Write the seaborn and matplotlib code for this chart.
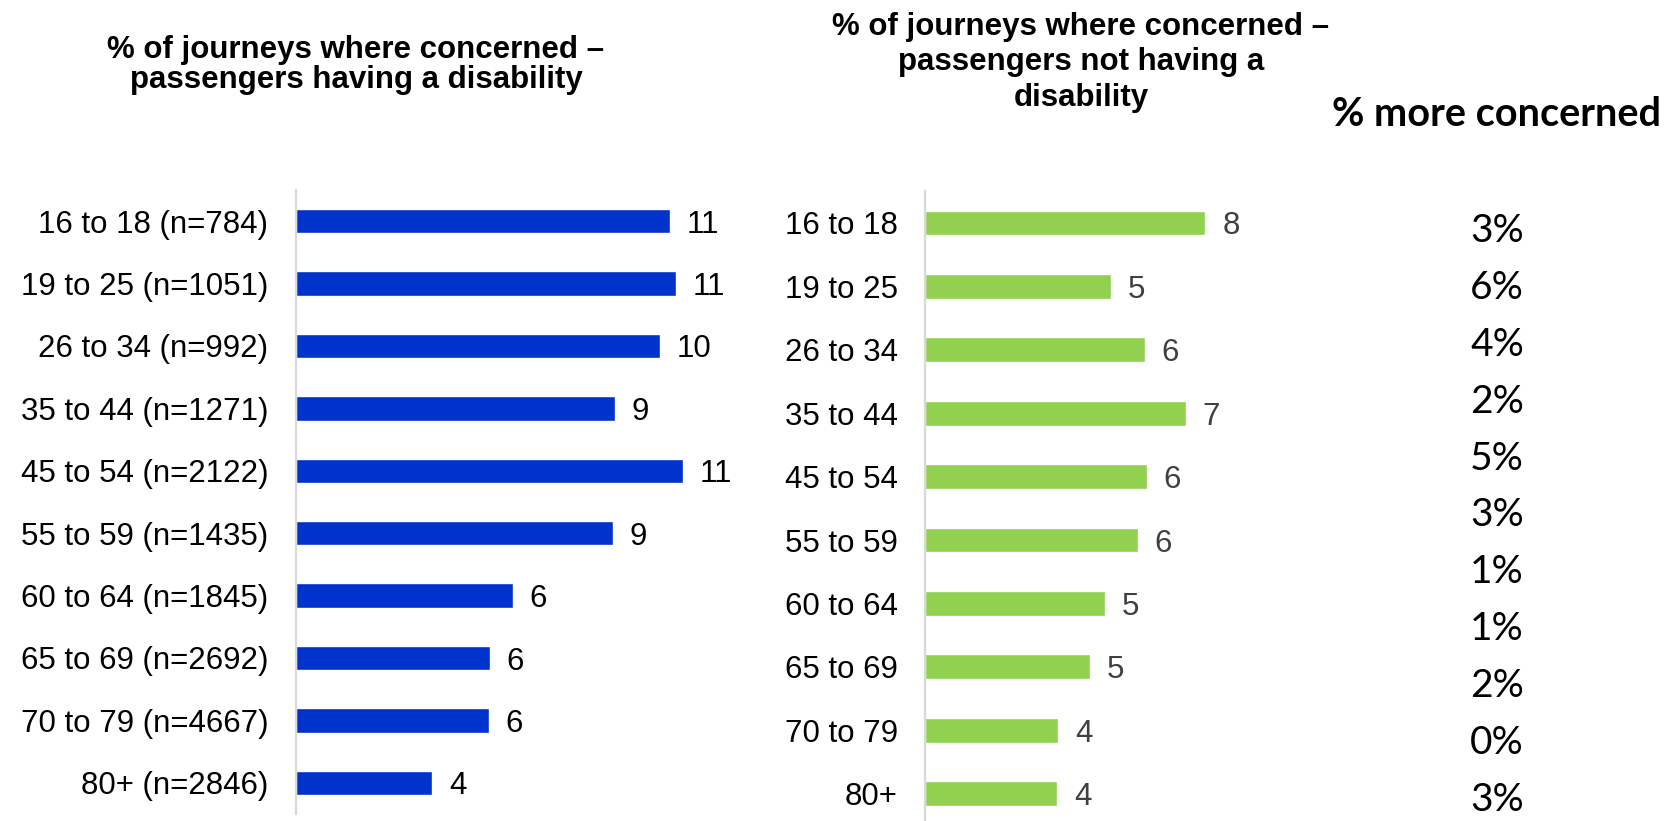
import matplotlib
matplotlib.use("Agg")
import matplotlib.pyplot as plt
import seaborn as sns

# Share of journeys where passengers felt concerned, by age group
age_groups_disabled = [
    "16 to 18 (n=784)", "19 to 25 (n=1051)", "26 to 34 (n=992)",
    "35 to 44 (n=1271)", "45 to 54 (n=2122)", "55 to 59 (n=1435)",
    "60 to 64 (n=1845)", "65 to 69 (n=2692)", "70 to 79 (n=4667)",
    "80+ (n=2846)",
]
age_groups_other = [
    "16 to 18", "19 to 25", "26 to 34", "35 to 44", "45 to 54",
    "55 to 59", "60 to 64", "65 to 69", "70 to 79", "80+",
]
concern_disabled = [10.69, 10.86, 10.40, 9.11, 11.05, 9.06, 6.20, 5.54, 5.51, 3.89]
concern_other = [8.00, 5.31, 6.27, 7.43, 6.33, 6.06, 5.14, 4.71, 3.80, 3.77]
more_concerned = ["3%", "6%", "4%", "2%", "5%", "3%", "1%", "1%", "2%", "0%", "3%"]

title_disabled = ["% of journeys where concerned \u2013", "passengers having a disability"]
title_other = ["% of journeys where concerned \u2013", "passengers not having a", "disability"]
title_diff = "% more concerned"

BLUE = "#0033CC"
GREEN = "#92D050"
SPINE = "#D9D9D9"

sns.set_style("white")
plt.rcParams["font.family"] = ["Liberation Sans", "DejaVu Sans"]
plt.rcParams["text.color"] = "black"
plt.rcParams["ytick.color"] = "black"
plt.rcParams["axes.labelcolor"] = "black"

W, H = 1679, 821
fig = plt.figure(figsize=(W / 100, H / 100), dpi=100)


def px_axes(x0, top, width, height):
    return fig.add_axes([x0 / W, 1 - (top + height) / H, width / W, height / H])


def fig_text(x, y, s, **kw):
    fig.text(x / W, 1 - y / H, s, **kw)


def draw_panel(ax, labels, values, color, value_color):
    sns.barplot(x=values, y=labels, orient="h", color=color, width=0.39,
                saturation=1, ax=ax)
    ax.set_xlim(0, 12)
    ax.set_ylim(len(labels) - 0.5, -0.5)
    ax.set_xlabel("")
    ax.set_ylabel("")
    ax.xaxis.set_visible(False)
    for side in ("top", "right", "bottom"):
        ax.spines[side].set_visible(False)
    ax.spines["left"].set_color(SPINE)
    ax.spines["left"].set_linewidth(1.6)
    ax.tick_params(axis="y", length=0, pad=20, labelsize=22.5, labelcolor="black")
    texts = ax.bar_label(ax.containers[0], labels=[f"{v:.0f}" for v in values],
                         padding=12, fontsize=22.5, color=value_color)
    for t in texts:
        t.set_va("center_baseline")


ax1 = px_axes(296, 190, 420, 624)
draw_panel(ax1, age_groups_disabled, concern_disabled, BLUE, "black")

ax2 = px_axes(925.5, 191.3, 420, 634)
draw_panel(ax2, age_groups_other, concern_other, GREEN, "#404040")

# Panel headings
for i, line in enumerate(title_disabled):
    fig_text(356, 50 + i * 30, line, ha="center", va="center",
             fontsize=22.5, fontweight="bold")
for i, line in enumerate(title_other):
    fig_text(1081, 27 + i * 35.3, line, ha="center", va="center",
             fontsize=22.5, fontweight="bold")

# Difference column
fig_text(1496, 114, title_diff, ha="center", va="center", fontsize=28.5,
         fontweight="bold", family=["Lato", "DejaVu Sans"])
for i, s in enumerate(more_concerned):
    fig_text(1497, 231 + i * 56.9, s, ha="center", va="center", fontsize=28,
             family=["Lato", "DejaVu Sans"])

fig.savefig("out.png", dpi=100)
